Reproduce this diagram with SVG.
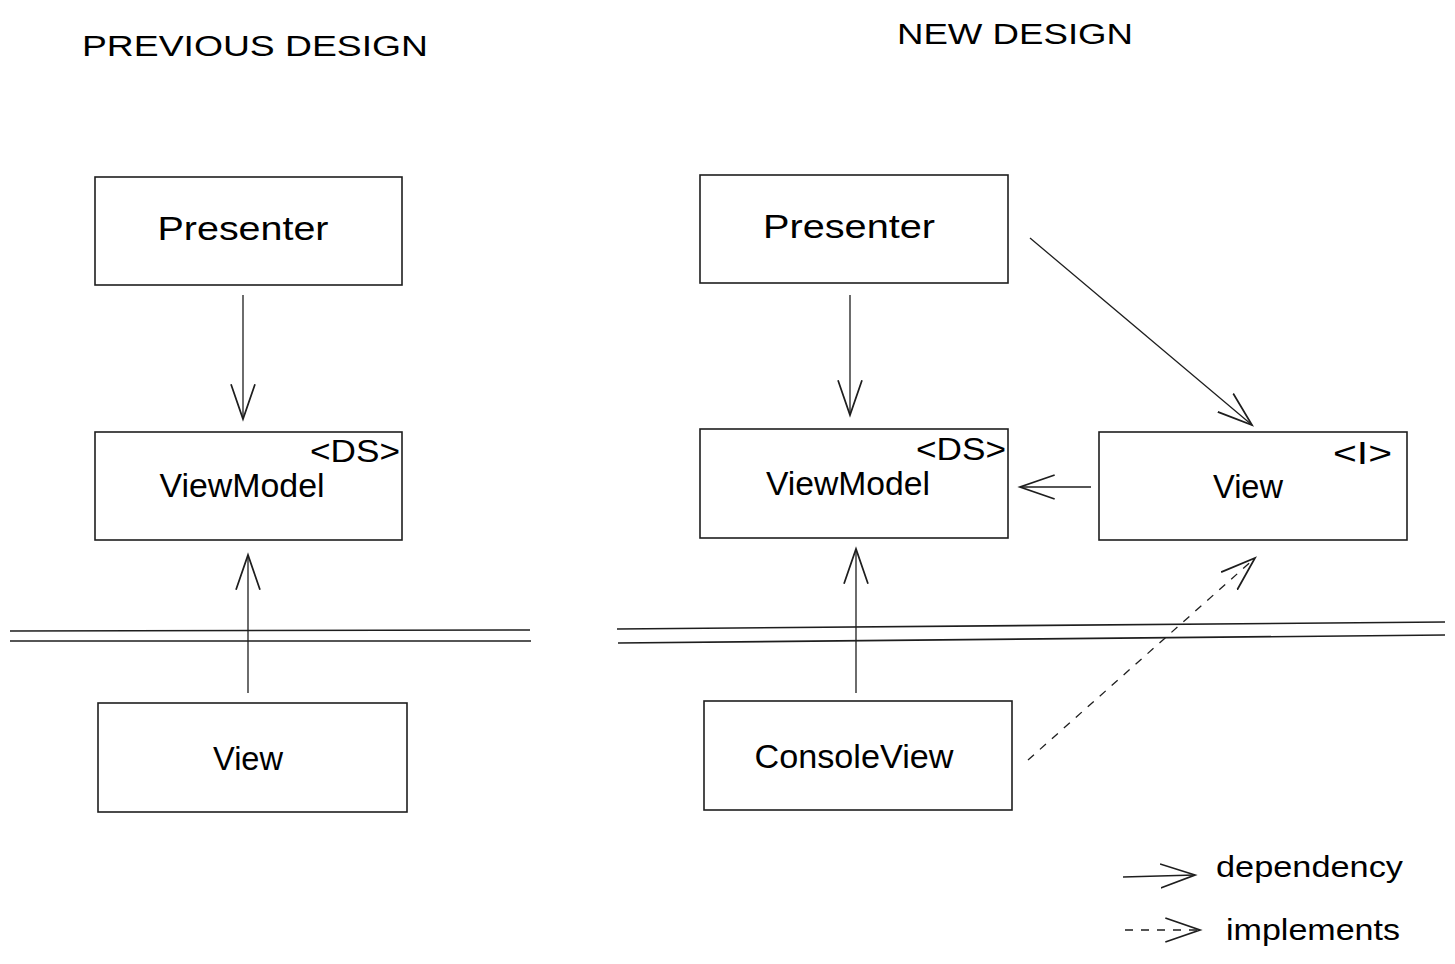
<svg xmlns="http://www.w3.org/2000/svg" width="1455" height="964" viewBox="0 0 1455 964">
<style>
.box{fill:#fff;stroke:#1e1e1e;stroke-width:1.6}
.box2{fill:none;stroke:#1e1e1e;stroke-width:0.8}
.lbl{font-family:"Liberation Sans","DejaVu Sans",sans-serif;font-size:34px;fill:#000;text-anchor:middle}
.tag{font-family:"Liberation Sans","DejaVu Sans",sans-serif;font-size:32px;fill:#000}
.ttl{font-family:"Liberation Sans","DejaVu Sans",sans-serif;font-size:30px;fill:#000}
.con{fill:none;stroke:#1e1e1e;stroke-width:1.3}
.dash{stroke-dasharray:8 8}
.sep{fill:none;stroke:#1e1e1e;stroke-width:1.6}
</style>
<defs>
<marker id="ah" markerUnits="userSpaceOnUse" markerWidth="40" markerHeight="40" refX="26" refY="10" orient="auto" viewBox="0 0 30 20">
<path d="M0,1 L26,10 L0,19" fill="none" stroke="#1e1e1e" stroke-width="1.3"/>
</marker>
</defs>
<rect width="1455" height="964" fill="#fff"/>
<text class="ttl" x="82" y="56" textLength="346" lengthAdjust="spacingAndGlyphs">PREVIOUS DESIGN</text>
<text class="ttl" x="897" y="44" textLength="236" lengthAdjust="spacingAndGlyphs">NEW DESIGN</text>

<g id="separators">
<path class="sep" d="M10,631 L530,630"/>
<path class="sep" d="M10,641 L531,641"/>
<path class="sep" d="M617,629 L1445,622"/>
<path class="sep" d="M618,643 L1445,635"/>
</g>

<g id="connectors">
<path class="con" d="M243,295 L243,419" marker-end="url(#ah)"/>
<path class="con" d="M248,693 L248,555" marker-end="url(#ah)"/>
<path class="con" d="M850,295 L850,415" marker-end="url(#ah)"/>
<path class="con" d="M1030,238 L1252,425" marker-end="url(#ah)"/>
<path class="con" d="M1091,487 L1020,487" marker-end="url(#ah)"/>
<path class="con" d="M856,693 L856,549" marker-end="url(#ah)"/>
<path class="con dash" d="M1028,760 L1255,558" marker-end="url(#ah)"/>
<path class="con" d="M1123,877 L1195,875" marker-end="url(#ah)"/>
<path class="con dash" d="M1125,930 L1200,930" marker-end="url(#ah)"/>
</g>

<g id="prev-presenter">
<rect class="box" x="95" y="177" width="307" height="108"/>
<text class="lbl" x="243" y="240" textLength="171" lengthAdjust="spacingAndGlyphs">Presenter</text>
</g>
<g id="prev-viewmodel">
<rect class="box" x="95" y="432" width="307" height="108"/>
<text class="lbl" x="242" y="497" textLength="165" lengthAdjust="spacingAndGlyphs">ViewModel</text>
<text class="tag" x="310" y="462" textLength="90" lengthAdjust="spacingAndGlyphs">&lt;DS&gt;</text>
</g>
<g id="prev-view">
<rect class="box" x="98" y="703" width="309" height="109"/>
<text class="lbl" x="248" y="770" textLength="70" lengthAdjust="spacingAndGlyphs">View</text>
</g>

<g id="new-presenter">
<rect class="box" x="700" y="175" width="308" height="108"/>
<text class="lbl" x="849" y="238" textLength="172" lengthAdjust="spacingAndGlyphs">Presenter</text>
</g>
<g id="new-viewmodel">
<rect class="box" x="700" y="429" width="308" height="109"/>
<text class="lbl" x="848" y="495" textLength="164" lengthAdjust="spacingAndGlyphs">ViewModel</text>
<text class="tag" x="916" y="460" textLength="90" lengthAdjust="spacingAndGlyphs">&lt;DS&gt;</text>
</g>
<g id="new-view">
<rect class="box" x="1099" y="432" width="308" height="108"/>
<text class="lbl" x="1248" y="498" textLength="70" lengthAdjust="spacingAndGlyphs">View</text>
<text class="tag" x="1333" y="464" textLength="59" lengthAdjust="spacingAndGlyphs">&lt;I&gt;</text>
</g>
<g id="new-consoleview">
<rect class="box" x="704" y="701" width="308" height="109"/>
<text class="lbl" x="854" y="768" textLength="199" lengthAdjust="spacingAndGlyphs">ConsoleView</text>
</g>

<g id="legend">
<text class="ttl" x="1216" y="877" font-size="34" textLength="187" lengthAdjust="spacingAndGlyphs">dependency</text>
<text class="ttl" x="1226" y="940" font-size="34" textLength="174" lengthAdjust="spacingAndGlyphs">implements</text>
</g>
</svg>
